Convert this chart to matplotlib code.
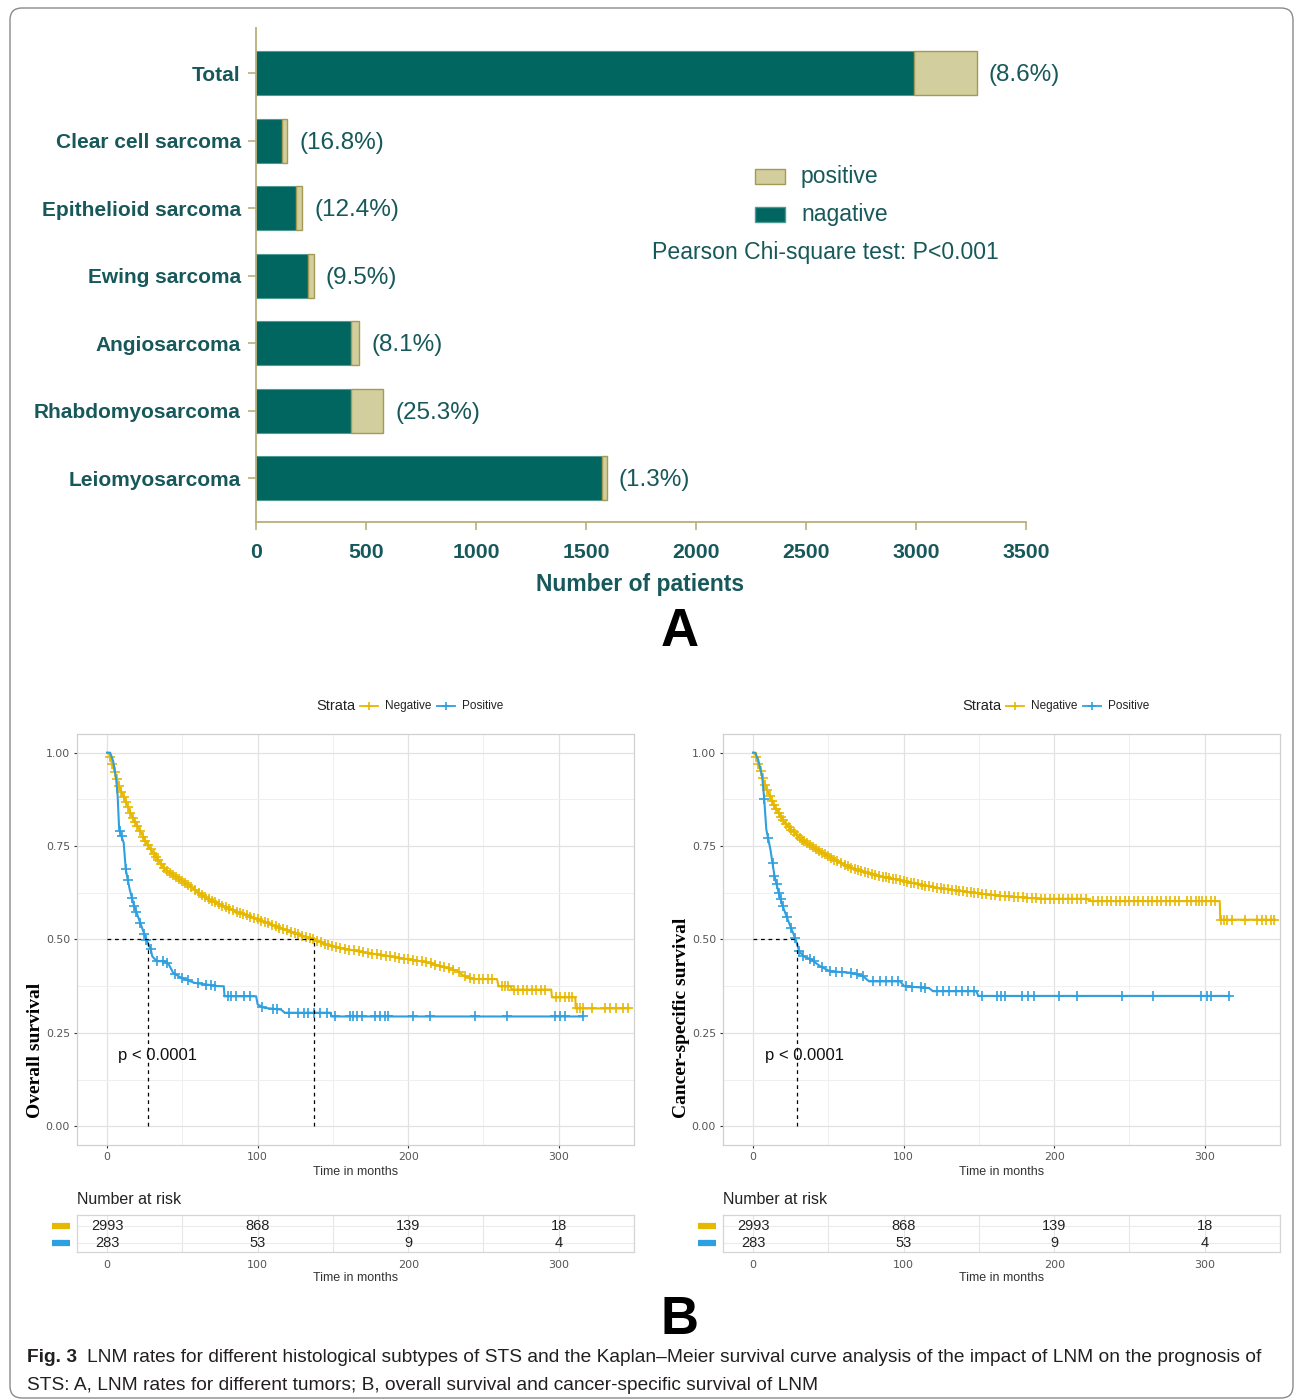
import numpy as np
import matplotlib
matplotlib.use("Agg")
import matplotlib.pyplot as plt
from matplotlib.patches import Rectangle, FancyBboxPatch
from matplotlib.lines import Line2D
from matplotlib.transforms import blended_transform_factory

# ---------------- data: LNM by histological subtype ----------------
categories = ["Leiomyosarcoma", "Rhabdomyosarcoma", "Angiosarcoma", "Ewing sarcoma",
              "Epithelioid sarcoma", "Clear cell sarcoma", "Total"]
negative_n = [1574, 431, 432, 238, 184, 119, 2993]
positive_n = [21, 146, 38, 25, 26, 24, 283]
rate_labels = ["(1.3%)", "(25.3%)", "(8.1%)", "(9.5%)", "(12.4%)", "(16.8%)", "(8.6%)"]
bar_xticks = [0, 500, 1000, 1500, 2000, 2500, 3000, 3500]

# ---------------- data: Kaplan-Meier curves (months, survival) ----------------
os_neg_t = [0, 1.4, 8, 16.5, 27.5, 38.5, 55, 66, 82.5, 100, 121, 137.5, 148, 170, 192.5,
            212.4, 223.5, 232.3, 236.8, 243.5, 259, 260, 268, 269, 295, 295.5, 311, 311.3, 346.4]
os_neg_s = [1.0, 0.996, 0.91, 0.83, 0.75, 0.6875, 0.643, 0.61, 0.58, 0.554, 0.522, 0.5, 0.483,
            0.466, 0.452, 0.439, 0.426, 0.417, 0.403, 0.394, 0.394, 0.3745, 0.3745, 0.366,
            0.366, 0.345, 0.345, 0.3155, 0.3155]
os_pos_t = [0, 2, 4, 6, 7, 8, 11, 12.4, 15, 18, 22, 26, 29, 30, 33, 38, 41, 44, 49.5, 58, 74,
            77.5, 78, 99, 100, 104.5, 115.5, 118, 148.5, 149, 316.4]
os_pos_s = [1.0, 1.0, 0.978, 0.93, 0.884, 0.795, 0.759, 0.6875, 0.634, 0.589, 0.545, 0.5,
            0.473, 0.455, 0.442, 0.442, 0.433, 0.41, 0.397, 0.384, 0.375, 0.375, 0.348, 0.348,
            0.326, 0.317, 0.3125, 0.304, 0.304, 0.294, 0.294]

css_neg_t = [0, 1.4, 7.4, 12.9, 21, 32, 40.2, 53.9, 67.5, 84, 100.4, 122, 141.4, 150.8, 164,
             190.7, 221.7, 224, 310, 310.3, 346.8]
css_neg_s = [1.0, 0.996, 0.92, 0.866, 0.8125, 0.768, 0.746, 0.714, 0.6875, 0.67, 0.656, 0.638,
             0.628, 0.623, 0.617, 0.609, 0.609, 0.6027, 0.6027, 0.553, 0.553]
css_pos_t = [0, 1.4, 3.3, 6, 7.4, 8.75, 11.5, 14.2, 17, 19.7, 23.8, 27.9, 30.6, 33.4, 38.8,
             44.3, 51, 64.8, 73, 77, 97.6, 100.4, 116.8, 119.5, 148.2, 149.6, 316.4]
css_pos_s = [1.0, 1.0, 0.982, 0.9375, 0.875, 0.795, 0.741, 0.67, 0.625, 0.589, 0.545, 0.504,
             0.469, 0.455, 0.446, 0.429, 0.415, 0.411, 0.402, 0.388, 0.388, 0.375, 0.37,
             0.3616, 0.3616, 0.349, 0.349]

# censoring times (months)
os_neg_cens = [2, 3.5, 5, 6.5, 8, 9.5, 11, 12.5, 14, 15.5, 17, 18.5, 20, 22, 24, 25.5, 27, 29,
               31, 32.5, 34, 36, 38, 40, 42, 44, 46, 48, 50, 52, 54, 56, 58.5, 61, 63, 65, 67.5,
               70, 72, 74, 76.5, 79, 81, 83.5, 86, 88, 90.5, 93, 95, 97.5, 100, 102.5, 105, 107,
               109.5, 112, 114.5, 117, 119.5, 122, 124.5, 127, 129.5, 132, 134.5, 137, 139.5,
               142, 144.5, 147, 149.5, 152, 155, 158, 161, 164, 167, 170, 173, 176, 179, 182,
               185, 188, 191, 194, 197, 200, 203, 206, 209, 212, 215, 218, 221, 224, 227, 230,
               234, 238, 241, 244, 247, 250, 253, 256, 262, 264, 266, 270, 273, 276, 279, 282,
               285, 288, 291, 298, 301, 304, 307, 309, 312, 314, 316, 322, 331, 334, 338, 343, 346]
os_pos_cens = [8.3, 9.6, 12.4, 13.8, 16.5, 17.9, 19.3, 22, 24.8, 26.1, 28.9, 33, 37.1, 39.9,
               45.4, 49.5, 53.6, 60.5, 66, 68.8, 71.5, 80, 82.5, 85.3, 90.8, 94.9, 103.2, 110,
               112.8, 121, 126.5, 130.7, 133.4, 137.6, 141.7, 145.8, 151.3, 161.4, 163.6, 165.8,
               169.1, 177.9, 181.2, 184.5, 186.7, 203.3, 214.4, 244.2, 265.9, 297.4, 300.7, 304,
               316.4]
css_neg_cens = [2, 3.5, 5, 6.5, 8, 9.5, 11, 12.5, 14, 15.5, 17, 18.5, 20, 22, 24, 25.5, 27, 29,
                31, 32.5, 34, 36, 38, 40, 42, 44, 46, 48, 50, 52, 54, 56, 58.5, 61, 63, 65, 67.5,
                70, 72, 74, 76.5, 79, 81, 83.5, 86, 88, 90.5, 93, 95, 97.5, 100, 102.5, 105, 107,
                109.5, 112, 114.5, 117, 119.5, 122, 124.5, 127, 129.5, 132, 134.5, 137, 139.5,
                142, 144.5, 147, 149.5, 152, 155, 158, 161, 164, 167, 170, 173, 176, 179, 182,
                185, 188, 191, 194, 197, 200, 203, 206, 209, 212, 215, 218, 221, 226, 229, 232,
                235, 238, 241, 244, 247, 250, 253, 256, 259, 262, 265, 268, 271, 274, 277, 280,
                283, 288, 291, 294, 296, 298, 301, 304, 307, 311, 313, 315, 318, 327, 335, 338,
                341, 344, 346]
css_pos_cens = [7.4, 10, 12.9, 14.2, 15.6, 17, 18.3, 19.7, 22.4, 25.2, 27.9, 30.6, 33.4, 37.5,
                40.2, 45.7, 51, 55.2, 59.3, 64.8, 68.9, 73, 79.8, 84, 88, 92.2, 96.3, 101.7,
                105.8, 111.3, 114, 122.2, 126.3, 130.4, 134.5, 138.6, 142.7, 146.8, 152.3, 161.9,
                164.6, 167.4, 178.3, 182.4, 186.5, 202.9, 215.2, 245.3, 265.8, 297.2, 301.3,
                304.1, 316.4]

os_medians = [27, 137.5]
css_medians = [29.3]

risk_times = [0, 100, 200, 300]
risk_negative = [2993, 868, 139, 18]
risk_positive = [283, 53, 9, 4]
km_xticks = [0, 100, 200, 300]
km_yticks = [0.0, 0.25, 0.5, 0.75, 1.0]

# ---------------- styling ----------------
W, H = 1295, 1400
TEAL = "#00665f"
BEIGE = "#d3ce9d"
AXCOL = "#b7af78"
TXT = "#17585a"
YEL = "#E7B800"
BLU = "#2E9FDF"
SANS = ["Liberation Sans", "DejaVu Sans"]
SERIF = ["Liberation Serif", "DejaVu Serif"]


def fx(px):
    return px / W


def fy(py):
    return 1 - py / H


fig = plt.figure(figsize=(W / 100, H / 100), dpi=100)
fig.patch.set_facecolor("white")

# outer rounded frame
fig.add_artist(FancyBboxPatch((0.10, 0.02), 12.83, 13.9,
                              boxstyle="round,pad=0,rounding_size=0.12",
                              transform=fig.dpi_scale_trans, fill=False,
                              edgecolor="#8a8a8a", linewidth=1.0))

# ================= panel A: stacked horizontal bars =================
axA = fig.add_axes([fx(256), fy(522), fx(1026) - fx(256), fy(28) - fy(522)])
ypos = np.arange(len(categories))
axA.barh(ypos, negative_n, height=0.65, color=TEAL, edgecolor="#4e9a94", linewidth=0.8)
axA.barh(ypos, positive_n, left=negative_n, height=0.65, color=BEIGE,
         edgecolor="#a39b55", linewidth=1.0)
for y, n, p, lab in zip(ypos, negative_n, positive_n, rate_labels):
    axA.text(n + p + 55, y - 0.03, lab, ha="left", va="center", fontsize=17.5,
             family=SANS, color=TXT)
axA.set_xlim(0, 3500)
axA.set_ylim(-0.65, 6.67)
axA.set_yticks(ypos)
axA.set_yticklabels(categories, fontsize=15, fontweight="bold", family=SANS, color=TXT)
axA.set_xticks(bar_xticks)
axA.set_xticklabels([str(v) for v in bar_xticks], fontsize=15.3, fontweight="bold",
                    family=SANS, color=TXT)
axA.tick_params(axis="y", length=6, width=1.2, color=AXCOL, pad=5)
axA.tick_params(axis="x", length=6, width=1.2, color=AXCOL, pad=9)
for side in ("top", "right"):
    axA.spines[side].set_visible(False)
for side in ("left", "bottom"):
    axA.spines[side].set_color(AXCOL)
    axA.spines[side].set_linewidth(1.3)

fig.text(fx(640), fy(584), "Number of patients", ha="center", va="center", fontsize=16.5,
         fontweight="bold", family=SANS, color=TXT)
fig.text(fx(680), fy(632), "A", ha="center", va="center", fontsize=38,
         fontweight="bold", family=SANS, color="black")

# legend of panel A
for yc, col, ec, lab in [(176, BEIGE, "#a39b55", "positive"), (214, TEAL, "#4e9a94", "nagative")]:
    fig.add_artist(Rectangle((fx(755), fy(yc + 7.5)), fx(30), 15 / H, transform=fig.transFigure,
                             facecolor=col, edgecolor=ec, linewidth=1.0))
    fig.text(fx(801), fy(yc), lab, ha="left", va="center", fontsize=16.5, family=SANS, color=TXT)
fig.text(fx(652), fy(252), "Pearson Chi-square test: P<0.001", ha="left", va="center",
         fontsize=16.6, family=SANS, color=TXT)


# ================= panel B: Kaplan-Meier curves =================
def strata_legend(x0):
    yl = fy(706)
    fig.text(fx(x0), yl, "Strata", ha="left", va="center", fontsize=10.5, family=SANS,
             color="#222222")
    for dx, col, lab in [(44, YEL, "Negative"), (121, BLU, "Positive")]:
        fig.add_artist(Line2D([fx(x0 + dx), fx(x0 + dx + 18)], [yl, yl], color=col, lw=1.3,
                              transform=fig.transFigure))
        fig.add_artist(Line2D([fx(x0 + dx + 9)], [yl], color=col, marker="+", ms=6, mew=1.2,
                              transform=fig.transFigure))
        fig.text(fx(x0 + dx + 25), yl, lab, ha="left", va="center", fontsize=8.5,
                 family=SANS, color="#222222")


def km_panel(left_px, curves, medians, ylabel, ylabel_x, p_x):
    ax = fig.add_axes([fx(left_px), fy(1145), fx(557), fy(734) - fy(1145)])
    ax.set_xlim(-20, 350)
    ax.set_ylim(-0.05, 1.05)
    ax.set_xticks(km_xticks)
    ax.set_xticks([50, 150, 250, 350], minor=True)
    ax.set_yticks(km_yticks)
    ax.set_yticks([0.125, 0.375, 0.625, 0.875], minor=True)
    ax.set_xticklabels([str(v) for v in km_xticks])
    ax.set_yticklabels(["%.2f" % v for v in km_yticks])
    ax.grid(which="major", color="#e2e2e2", lw=0.9)
    ax.grid(which="minor", color="#efefef", lw=0.7)
    ax.set_axisbelow(True)
    ax.tick_params(which="major", length=2.5, width=0.8, color="#333333", labelsize=7.8,
                   labelcolor="#555555", pad=2.5)
    ax.tick_params(which="minor", length=0)
    for sp in ax.spines.values():
        sp.set_color("#d0d0d0")
        sp.set_linewidth(0.9)
    for t, s, cens, col in curves:
        ax.plot(t, s, color=col, lw=1.5, zorder=3)
        ax.plot(cens, np.interp(cens, t, s), "+", ms=7, mew=1.2, color=col, zorder=3)
    mmax = max(medians)
    ax.plot([0, mmax], [0.5, 0.5], color="black", lw=0.9, ls=(0, (3, 3)), zorder=4)
    for m in medians:
        ax.plot([m, m], [0, 0.5], color="black", lw=0.9, ls=(0, (3, 3)), zorder=4)
    ax.text(p_x, 0.19, "p < 0.0001", ha="left", va="center", fontsize=12, family=SANS,
            color="#111111", zorder=5)
    ax.text(0.5, -27 / 411, "Time in months", transform=ax.transAxes, ha="center",
            va="center", fontsize=9, family=SANS, color="#333333")
    fig.text(fx(ylabel_x), fy(1118), ylabel, rotation=90, ha="center", va="bottom",
             fontsize=14, fontweight="bold", family=SERIF, color="black")

    # risk table
    tb = fig.add_axes([fx(left_px), fy(1252), fx(557), fy(1215) - fy(1252)])
    tb.set_xlim(-20, 350)
    tb.set_ylim(-0.53, 1.65)
    tb.set_xticks(km_xticks)
    tb.set_xticks([50, 150, 250, 350], minor=True)
    tb.set_xticklabels([str(v) for v in km_xticks])
    tb.set_yticks([0, 1])
    tb.set_yticklabels(["", ""])
    tb.grid(which="both", axis="x", color="#e6e6e6", lw=0.8)
    tb.grid(which="major", axis="y", color="#ececec", lw=0.8)
    tb.set_axisbelow(True)
    tb.tick_params(which="both", length=0, labelsize=8, labelcolor="#555555", pad=6)
    for sp in tb.spines.values():
        sp.set_color("#d5d5d5")
        sp.set_linewidth(0.9)
    for xt, a, b in zip(risk_times, risk_negative, risk_positive):
        tb.text(xt, 1, str(a), ha="center", va="center", fontsize=10.5, family=SANS,
                color="#222222")
        tb.text(xt, 0, str(b), ha="center", va="center", fontsize=10.5, family=SANS,
                color="#222222")
    btr = blended_transform_factory(tb.transAxes, tb.transData)
    for yy, col in [(1, YEL), (0, BLU)]:
        tb.plot([-0.045, -0.013], [yy, yy], transform=btr, color=col, lw=4.5,
                solid_capstyle="butt", clip_on=False)
    tb.text(0.0, 1 + 15 / 37, "Number at risk", transform=tb.transAxes, ha="left",
            va="center", fontsize=11.5, family=SANS, color="#222222")
    tb.text(0.5, -26 / 37, "Time in months", transform=tb.transAxes, ha="center",
            va="center", fontsize=9, family=SANS, color="#333333")
    return ax


km_panel(77,
         [(os_neg_t, os_neg_s, os_neg_cens, YEL), (os_pos_t, os_pos_s, os_pos_cens, BLU)],
         os_medians, "Overall survival", 36, 7)
km_panel(723,
         [(css_neg_t, css_neg_s, css_neg_cens, YEL), (css_pos_t, css_pos_s, css_pos_cens, BLU)],
         css_medians, "Cancer-specific survival", 681, 8)
strata_legend(316)
strata_legend(962)

fig.text(fx(680), fy(1320), "B", ha="center", va="center", fontsize=38,
         fontweight="bold", family=SANS, color="black")

# caption
CAP = 13.8
fig.text(fx(27), fy(1357), "Fig. 3", ha="left", va="center", fontsize=CAP,
         fontweight="bold", family=SANS, color="#231f20")
fig.text(fx(87), fy(1357),
         "LNM rates for different histological subtypes of STS and the Kaplan\u2013Meier survival "
         "curve analysis of the impact of LNM on the prognosis of",
         ha="left", va="center", fontsize=CAP, family=SANS, color="#231f20")
fig.text(fx(27), fy(1385),
         "STS: A, LNM rates for different tumors; B, overall survival and cancer-specific "
         "survival of LNM",
         ha="left", va="center", fontsize=CAP, family=SANS, color="#231f20")

fig.savefig("out.png", dpi=100, facecolor="white")
